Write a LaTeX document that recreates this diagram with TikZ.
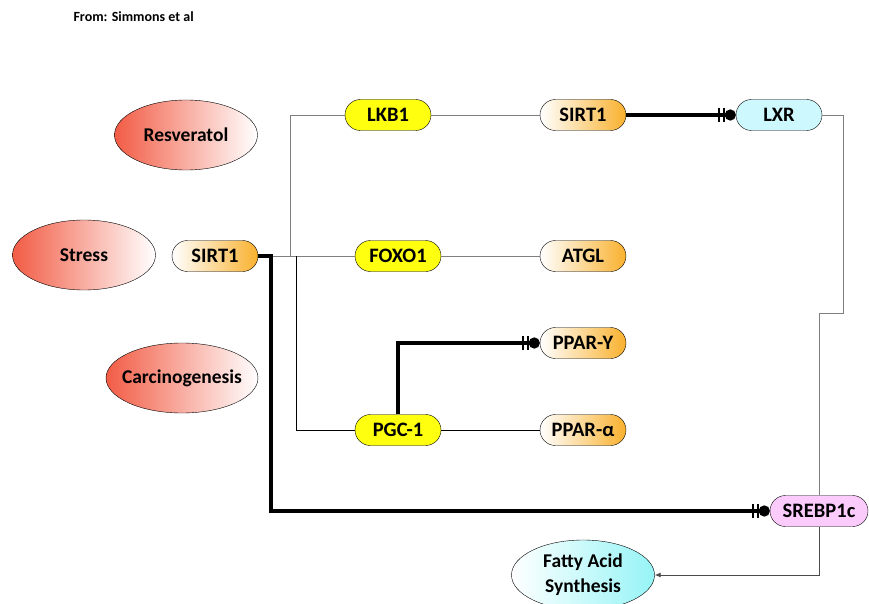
\documentclass[tikz,border=0pt]{standalone}
\usepackage{fontspec}
\setmainfont{Carlito}
\usetikzlibrary{arrows.meta, shapes.geometric, positioning}
\usepackage{xcolor}
\definecolor{orangeA}{HTML}{F9B12E}
\definecolor{redA}{HTML}{F25C45}
\definecolor{yellowA}{HTML}{FFFF10}
\definecolor{cyanA}{HTML}{96F4F6}
\definecolor{lxrA}{HTML}{CDF8FD}
\definecolor{pinkA}{HTML}{FBCBFB}
\definecolor{wireA}{HTML}{7F7F7F}

\begin{document}
\begin{tikzpicture}[x=1pt, y=-1pt,
  gene/.style={draw, rounded corners=15.5pt, minimum width=86pt, minimum height=31pt,
    inner sep=0pt, font=\bfseries\fontsize{20.5}{24}\selectfont},
  sirt/.style={gene, left color=white, right color=orangeA},
  yel/.style={gene, fill=yellowA},
  cause/.style={draw, ellipse, minimum width=143pt, minimum height=70pt, inner sep=0pt,
    left color=redA, right color=white, font=\bfseries\fontsize{19.5}{24}\selectfont},
  wire/.style={draw=wireA, line width=0.9pt},
  inhib/.style={line width=3.4pt, -{Bar[width=14pt,line width=2pt,sep=2.5pt]Bar[width=14pt,line width=2pt,sep=0pt]Circle[length=11pt]}}]
  \useasboundingbox (0,0) rectangle (869,604);

  % source line
  \node[anchor=west, font=\bfseries\fontsize{14}{16}\selectfont] (src) at (70,17) {From: Simmons et al};

  % triggers
  \node[cause] (resv) at (186,135) {Resveratol};
  \node[cause] (stress) at (84,255) {Stress};
  \node[cause, minimum width=152pt, inner xsep=-14pt] (carc) at (182,378) {Carcinogenesis};

  % genes
  \node[sirt] (sirtA) at (215,256) {SIRT1};
  \node[yel] (lkb) at (388,115) {LKB1};
  \node[sirt] (sirtB) at (583,115) {SIRT1};
  \node[gene, fill=lxrA] (lxr) at (779,115) {LXR};
  \node[yel] (foxo) at (398,256) {FOXO1};
  \node[sirt] (atgl) at (583,256) {ATGL};
  \node[sirt] (pparg) at (583,343) {PPAR-Υ};
  \node[yel] (pgc) at (398,430) {PGC-1};
  \node[sirt] (ppara) at (583,430) {PPAR-α};
  \node[gene, fill=pinkA, minimum width=98pt] (srebp) at (819,511) {SREBP1c};
  \node[draw, ellipse, minimum width=143pt, minimum height=70pt, inner sep=0pt, align=center,
    left color=white, right color=cyanA, font=\bfseries\fontsize{19.5}{25}\selectfont]
    (fas) at (583,575) {Fatty Acid\\Synthesis};

  % bend points
  \coordinate (jA) at (290,256);
  \coordinate (jB) at (296,256);
  \coordinate (jC) at (271,511);
  \coordinate (jD) at (843,313);

  % connectors
  \draw[wire] (sirtA.east) -- (foxo.west);
  \draw[wire] (jA) |- (lkb.west);
  \draw[line width=0.9pt] (jB) |- (pgc.west);
  \draw[wire] (lkb) -- (sirtB);
  \draw[wire] (foxo) -- (atgl);
  \draw[line width=0.9pt] (pgc) -- (ppara);
  \draw[inhib] (sirtB) -- (lxr);
  \draw[inhib] (pgc.north) |- (pparg.west);
  \draw[inhib] (sirtA.east) -| (jC) -- (srebp.west);
  \draw[wire] (lxr.east) -| (jD) -| (srebp.north);
  \draw[draw=black!70, line width=0.9pt, -{Latex[length=6pt,width=5pt]}] (srebp.south) |- (fas.east);
\end{tikzpicture}
\end{document}
